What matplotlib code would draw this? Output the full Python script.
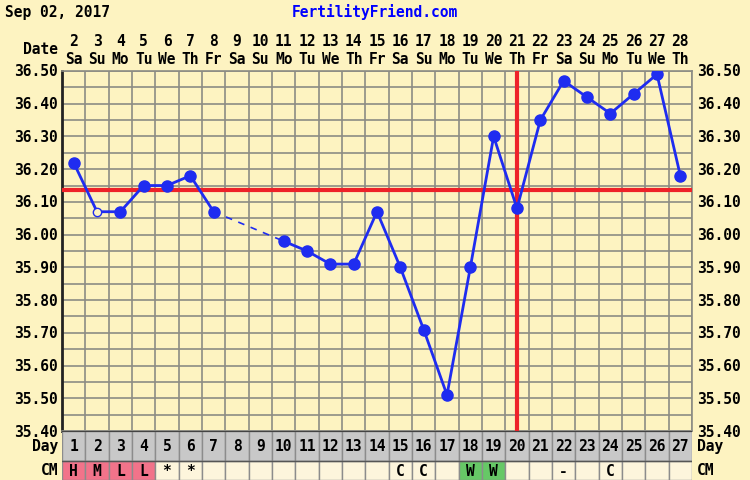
import matplotlib
matplotlib.use("Agg")
import matplotlib.pyplot as plt
import numpy as np
from matplotlib.patches import Rectangle

# chart data
cycle_days = list(range(1, 28))
dates = list(range(2, 29))
weekdays = ["Sa", "Su", "Mo", "Tu", "We", "Th", "Fr"] * 4
weekdays = weekdays[:27]
temps = [36.22, 36.07, 36.07, 36.15, 36.15, 36.18, 36.07, None, None, 35.98,
         35.95, 35.91, 35.91, 36.07, 35.90, 35.71, 35.51, 35.90, 36.30, 36.08,
         36.35, 36.47, 36.42, 36.37, 36.43, 36.49, 36.18]
open_days = [2]
coverline = 36.135
ovulation_day = 20
cm_codes = ["H", "M", "L", "L", "*", "*", "", "", "", "", "", "", "", "",
            "C", "C", "", "W", "W", "", "", "-", "", "C", "", "", ""]
y_ticks = [36.50, 36.40, 36.30, 36.20, 36.10, 36.00, 35.90, 35.80, 35.70,
           35.60, 35.50, 35.40]

BG = "#fdf3c1"
BLUE = "#1f2cf0"
RED = "#ee2229"
GRID = "#8c8c84"
MONO = "DejaVu Sans Mono"

W, H = 750, 481
fig = plt.figure(figsize=(W / 100, H / 100), dpi=100, facecolor=BG)


def fx(px):
    return px / W


def fy(py):
    return 1 - py / H


x0, x1 = 62, 692
ytop, ybot = 72, 432
ax = fig.add_axes([fx(x0), fy(ybot), fx(x1 - x0), fy(ytop) - fy(ybot)])
ax.set_facecolor(BG)
ax.set_xlim(0.5, 27.5)
ax.set_ylim(35.40, 36.50)

# grid
for k in range(28):
    ax.axvline(0.5 + k, color=GRID, lw=1.2, zorder=1)
for v in np.arange(35.40, 36.51, 0.05):
    ax.axhline(v, color=GRID, lw=1.2, zorder=1)

for s in ["top", "right", "bottom"]:
    ax.spines[s].set_color(GRID)
    ax.spines[s].set_linewidth(1.2)
ax.spines["left"].set_color("#222222")
ax.spines["left"].set_linewidth(2)
ax.set_xticks([])
ax.set_yticks([])

# coverline and ovulation line
ax.axhline(coverline, color=RED, lw=3, zorder=3)
ax.axvline(ovulation_day, color=RED, lw=3, zorder=3)

t = np.array([np.nan if v is None else v for v in temps])
d = np.array(cycle_days)
ax.plot(d, t, color=BLUE, lw=2, zorder=4)

# dashed line across missing days
valid = ~np.isnan(t)
idx = np.where(valid)[0]
for a, b in zip(idx[:-1], idx[1:]):
    if b - a > 1:
        ax.plot([d[a], d[b]], [t[a], t[b]], color=BLUE, lw=1.2,
                ls=(0, (4, 4)), zorder=4)

for day, v in zip(d, t):
    if np.isnan(v):
        continue
    if day in open_days:
        ax.plot(day, v, "o", ms=6, mfc=BG, mec=BLUE, mew=1, zorder=5)
    else:
        ax.plot(day, v, "o", ms=8, color=BLUE, zorder=5)

# y labels both sides
for v in y_ticks:
    py = ytop + (36.50 - v) / 1.10 * (ybot - ytop)
    fig.text(fx(58), fy(py), f"{v:.2f}", ha="right", va="center",
             family=MONO, weight="bold", fontsize=10.5)
    fig.text(fx(697), fy(py), f"{v:.2f}", ha="left", va="center",
             family=MONO, weight="bold", fontsize=10.5)

# top header
fig.text(fx(5), fy(12), "Sep 02, 2017", ha="left", va="center",
         family=MONO, weight="bold", fontsize=10.5)
fig.text(fx(375), fy(12), "FertilityFriend.com", ha="center", va="center",
         family=MONO, weight="bold", fontsize=10.5, color="#0000ff")
fig.text(fx(58), fy(50), "Date", ha="right", va="center",
         family=MONO, weight="bold", fontsize=10.5)
colw = (x1 - x0) / 27
for i, (dt, wd) in enumerate(zip(dates, weekdays)):
    cx = x0 + colw * (i + 0.5)
    fig.text(fx(cx), fy(42), str(dt), ha="center", va="center",
             family=MONO, weight="bold", fontsize=10.5)
    fig.text(fx(cx), fy(59), wd, ha="center", va="center",
             family=MONO, weight="bold", fontsize=10.5)

# day / CM table
tab = fig.add_axes([fx(x0), 0, fx(x1 - x0), fy(ybot)])
tab.set_xlim(0.5, 27.5)
tab.set_ylim(0, 49)
tab.axis("off")
cm_colors = {"H": "#f2738a", "M": "#f2738a", "L": "#f2738a", "W": "#66c866"}
for i, day in enumerate(cycle_days):
    tab.add_patch(Rectangle((day - 0.5, 19), 1, 30, fc="#c8c8c8",
                            ec="#8c8c8c", lw=1))
    tab.text(day, 34, str(day), ha="center", va="center", family=MONO,
             weight="bold", fontsize=10.5)
    code = cm_codes[i]
    tab.add_patch(Rectangle((day - 0.5, 0), 1, 19,
                            fc=cm_colors.get(code, "#fdf5dc"),
                            ec="#8c8c8c", lw=1))
    if code:
        tab.text(day, 9.5, code, ha="center", va="center", family=MONO,
                 weight="bold", fontsize=10.5)
tab.plot([0.5, 27.5], [49, 49], color="#444444", lw=1.5)
tab.plot([0.5, 27.5], [19, 19], color="#555555", lw=1)

fig.text(fx(58), fy(447), "Day", ha="right", va="center",
         family=MONO, weight="bold", fontsize=10.5)
fig.text(fx(697), fy(447), "Day", ha="left", va="center",
         family=MONO, weight="bold", fontsize=10.5)
fig.text(fx(58), fy(471), "CM", ha="right", va="center",
         family=MONO, weight="bold", fontsize=10.5)
fig.text(fx(697), fy(471), "CM", ha="left", va="center",
         family=MONO, weight="bold", fontsize=10.5)

fig.savefig("out.png", dpi=100, facecolor=BG)
